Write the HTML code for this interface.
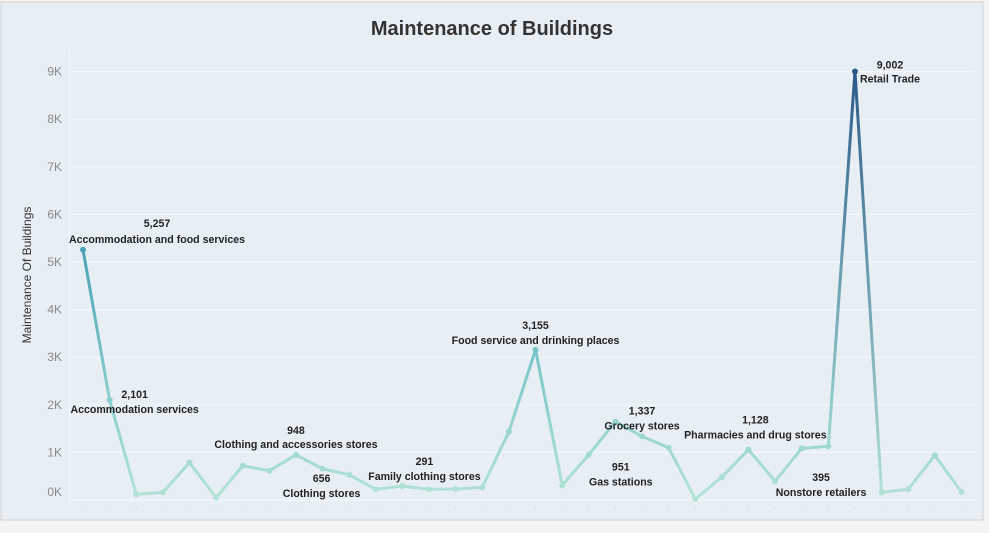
<!DOCTYPE html>
<html><head><meta charset="utf-8"><style>
body{margin:0;width:989px;height:528px;background:#f4f4f4;font-family:"Liberation Sans",sans-serif;overflow:hidden}
</style></head><body>
<svg id="chart" width="989" height="528" xmlns="http://www.w3.org/2000/svg">
<rect x="1" y="2" width="982" height="518" fill="#e7eff5" stroke="#d0d0d0"/>
<text x="492" y="35" text-anchor="middle" font-size="20" font-weight="bold" fill="#333">Maintenance of Buildings</text>
<text transform="translate(31,275) rotate(-90)" text-anchor="middle" font-size="12" fill="#333">Maintenance Of Buildings</text>
<line x1="69.5" y1="50" x2="69.5" y2="505" stroke="#f4f7f9" stroke-width="1"/>
<g id="grid"></g><g id="lines"></g><g id="pts"></g><g id="labels"></g>
</svg>
<script>
const categories=["Accommodation and food services","Accommodation services","c3","c4","c5","c6","c7","c8","Clothing and accessories stores","Clothing stores","c11","c12","Family clothing stores","c14","c15","c16","c17","Food service and drinking places","c19","Gas stations","c21","Grocery stores","c23","c24","c25","c26","Nonstore retailers","c28","Pharmacies and drug stores","Retail Trade","c31","c32","c33","c34"];
const values=[5257,2101,120,160,785,50,720,615,948,656,530,225,291,225,230,265,1435,3155,310,951,1645,1337,1100,20,483,1057,395,1085,1128,9002,160,225,938,168];
const yTicks=[0,1000,2000,3000,4000,5000,6000,7000,8000,9000];
const tickLabels=["0K","1K","2K","3K","4K","5K","6K","7K","8K","9K"];
const labelIdx=[0,1,8,9,12,17,19,21,26,28,29];
const NS="http://www.w3.org/2000/svg";
const x=i=>83+i*26.62;
const y=v=>500-v*47.6/1000;
function col(v){const t=Math.min(1,Math.max(0,v/9000));
 const s=[[0,[180,227,213]],[0.35,[120,196,200]],[0.6,[72,160,182]],[1,[44,90,138]]];
 let k=0;while(k<s.length-2&&t>s[k+1][0])k++;
 const [t0,a]=s[k],[t1,b]=s[k+1];const u=(t-t0)/(t1-t0);
 return `rgb(${a.map((c,j)=>Math.round(c+(b[j]-c)*u)).join(',')})`;}
const g=document.getElementById('grid');
yTicks.forEach((t,i)=>{
 const l=document.createElementNS(NS,'line');
 
 
 l.setAttribute('x1',70);l.setAttribute('x2',975);l.setAttribute('y1',y(t));l.setAttribute('y2',y(t));
 l.setAttribute('stroke','#f6f9fb');g.appendChild(l);
 const tx=document.createElementNS(NS,'text');
 
 
 tx.setAttribute('x',62);tx.setAttribute('y',Math.min(y(t)+4,496));tx.setAttribute('text-anchor','end');
 tx.setAttribute('font-size','12');tx.setAttribute('fill','#888');tx.textContent=tickLabels[i];g.appendChild(tx);
});
values.forEach((v,i)=>{
 const tk=document.createElementNS(NS,'text');
 
 
 tk.setAttribute('x',x(i));tk.setAttribute('y',509);tk.setAttribute('font-size','6');tk.setAttribute('fill','#999');tk.setAttribute('text-anchor','middle');tk.textContent='·';g.appendChild(tk);
});
const L=document.getElementById('lines'),P=document.getElementById('pts');
const defs=document.createElementNS(NS,'defs');document.getElementById('chart').appendChild(defs);
for(let i=0;i<values.length-1;i++){
 const gr=document.createElementNS(NS,'linearGradient');gr.id='g'+i;
 gr.setAttribute('gradientUnits','userSpaceOnUse');
 gr.setAttribute('x1',x(i));gr.setAttribute('y1',y(values[i]));gr.setAttribute('x2',x(i+1));gr.setAttribute('y2',y(values[i+1]));
 gr.innerHTML=`<stop offset="0" stop-color="${col(values[i])}"/><stop offset="1" stop-color="${col(values[i+1])}"/>`;
 defs.appendChild(gr);
 const l=document.createElementNS(NS,'line');
 
 
 l.setAttribute('x1',x(i));l.setAttribute('y1',y(values[i]));l.setAttribute('x2',x(i+1));l.setAttribute('y2',y(values[i+1]));
 l.setAttribute('stroke','url(#g'+i+')');l.setAttribute('stroke-width','3');l.setAttribute('stroke-linecap','round');
 L.appendChild(l);
}
values.forEach((v,i)=>{
 const c=document.createElementNS(NS,'circle');
 
 
 c.setAttribute('cx',x(i));c.setAttribute('cy',y(v));c.setAttribute('r',3);c.setAttribute('fill',col(v));P.appendChild(c);
});
const offs={0:[74,-23,-7],1:[25,-2,13],8:[0,-21,-7],9:[-1,13,28],12:[22,-21,-6],17:[0,-21,-6],19:[32,16,31],21:[0,-22,-7],26:[46,0,15],28:[-73,-23,-8],29:[35,-3,11]};
const A=document.getElementById('labels');
labelIdx.forEach(i=>{
 const [dx,dy1,dy2]=offs[i];
 const t1=document.createElementNS(NS,'text');
 
 
 t1.setAttribute('x',x(i)+dx);t1.setAttribute('y',y(values[i])+dy1);t1.setAttribute('text-anchor','middle');
 t1.setAttribute('font-size','10.6');t1.setAttribute('font-weight','bold');t1.setAttribute('fill','#222');
 t1.textContent=values[i].toLocaleString('en-US');A.appendChild(t1);
 const t2=document.createElementNS(NS,'text');
 
 
 t2.setAttribute('x',x(i)+dx);t2.setAttribute('y',y(values[i])+dy2);t2.setAttribute('text-anchor','middle');
 t2.setAttribute('font-size','10.6');t2.setAttribute('font-weight','bold');t2.setAttribute('fill','#222');
 t2.textContent=categories[i];A.appendChild(t2);
});
</script>
</body></html>
